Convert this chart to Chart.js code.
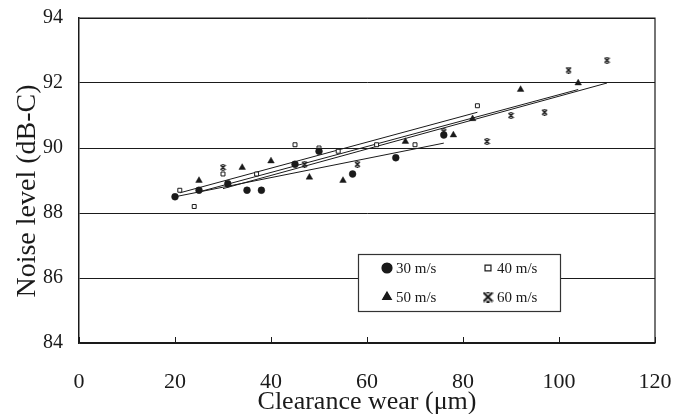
<!DOCTYPE html>
<html>
<head>
<meta charset="utf-8">
<script src="https://cdn.jsdelivr.net/npm/chart.js@4.4.1/dist/chart.umd.min.js"></script>
<style>
    body { margin: 0; background: #fff; }
</style>
</head>
<body>
<canvas id="cNoise" width="681" height="414"></canvas>
<script>
/* data */

const xTicks = [0, 20, 40, 60, 80, 100, 120];
const yTicks = [84, 86, 88, 90, 92, 94];

const wear30 = [20, 25, 31, 35, 38, 45, 50, 57, 66, 76];
const noise30 = [88.5, 88.7, 88.9, 88.7, 88.7, 89.5, 89.9, 89.2, 89.7, 90.4];

const wear40 = [21, 24, 30, 37, 45, 50, 54, 62, 70, 83];
const noise40 = [88.7, 88.2, 89.2, 89.2, 90.1, 90.0, 89.9, 90.1, 90.1, 91.3];

const wear50 = [25, 34, 40, 48, 55, 68, 78, 82, 92, 104];
const noise50 = [89.0, 89.4, 89.6, 89.1, 89.0, 90.2, 90.4, 90.9, 91.8, 92.0];

const wear60 = [30, 47, 58, 76, 85, 90, 97, 102, 110];
const noise60 = [89.4, 89.5, 89.5, 90.5, 90.2, 91.0, 91.1, 92.4, 92.7];

// trend lines, start / end
const trendWear = [[20, 76], [21, 83], [25, 104], [30, 110]];
const trendNoise = [[88.5, 90.15], [88.62, 91.1], [88.65, 91.8], [88.75, 92.0]];

const seriesNames = ["30 m/s", "40 m/s", "50 m/s", "60 m/s"];

/* helpers */

const INK = "#1a1a1a";
const SERIF = "'Liberation Serif', 'DejaVu Serif', serif";

const toPoints = (xs, ys) => xs.map((x, i) => ({ x, y: ys[i] }));

// star marker: bold X with short bars top and bottom
function makeStar(size, lw) {
    const c = document.createElement("canvas");
    c.width = size;
    c.height = size;
    const g = c.getContext("2d");
    g.strokeStyle = INK;
    g.lineWidth = lw;
    const a = 1, b = size - 1;
    g.beginPath();
    g.moveTo(a, a); g.lineTo(b, b);
    g.moveTo(b, a); g.lineTo(a, b);
    g.moveTo(size * 0.35, 0.6); g.lineTo(size * 0.65, 0.6);
    g.moveTo(size * 0.35, size - 0.6); g.lineTo(size * 0.65, size - 0.6);
    g.stroke();
    return c;
}

const star = makeStar(7, 1.5);
const starBig = makeStar(11, 2.2);

const markers = [
    { pointStyle: "circle", radius: 3.4, bg: INK, border: INK },
    { pointStyle: "rect", radius: 2.8, bg: "#fff", border: INK },
    { pointStyle: "triangle", radius: 3.8, bg: INK, border: INK },
    { pointStyle: star, radius: 3.5, bg: INK, border: INK }
];

/* plot frame + inward ticks + legend box */

const framePlugin = {
    id: "frame",
    afterDraw(chart) {
        const { ctx, chartArea: a, scales } = chart;
        ctx.save();
        ctx.strokeStyle = INK;
        ctx.lineWidth = 1.2;
        ctx.beginPath();
        ctx.moveTo(a.left, a.top);
        ctx.lineTo(a.right, a.top);
        ctx.lineTo(a.right, a.bottom);
        ctx.stroke();

        ctx.lineWidth = 1;
        ctx.beginPath();
        scales.x.ticks.forEach(t => {
            const px = Math.round(scales.x.getPixelForValue(t.value)) + 0.5;
            ctx.moveTo(px, a.bottom);
            ctx.lineTo(px, a.bottom - 6);
        });
        ctx.stroke();

        // legend
        const box = { x: 358, y: 254, w: 202, h: 57 };
        ctx.fillStyle = "#fff";
        ctx.fillRect(box.x, box.y, box.w, box.h);
        ctx.strokeStyle = "#333";
        ctx.lineWidth = 1.2;
        ctx.strokeRect(box.x + 0.5, box.y + 0.5, box.w, box.h);

        const spots = [[387, 268], [488, 268], [387, 297], [488, 297]];
        ctx.font = "15px " + SERIF;
        ctx.textBaseline = "middle";
        ctx.textAlign = "left";
        seriesNames.forEach((name, i) => {
            const [mx, my] = spots[i];
            const m = markers[i];
            ctx.fillStyle = m.bg;
            ctx.strokeStyle = m.border;
            ctx.lineWidth = 1.2;
            if (i === 3) {
                ctx.drawImage(starBig, mx - 5.5, my - 5.5);
            } else {
                Chart.helpers.drawPoint(ctx, {
                    pointStyle: m.pointStyle,
                    radius: i === 1 ? 4.2 : 5,
                    borderWidth: 1.2
                }, mx, my);
                if (i !== 1) ctx.fill();
            }
            ctx.fillStyle = INK;
            ctx.fillText(name, mx + 9, my + 1);
        });
        ctx.restore();
    }
};

/* chart */

const wears = [wear30, wear40, wear50, wear60];
const noises = [noise30, noise40, noise50, noise60];

const pointSets = seriesNames.map((name, i) => ({
    label: name,
    data: toPoints(wears[i], noises[i]),
    pointStyle: markers[i].pointStyle,
    pointRadius: markers[i].radius,
    pointBackgroundColor: markers[i].bg,
    pointBorderColor: markers[i].border,
    pointBorderWidth: i === 1 ? 1 : 0.5,
    showLine: false,
    order: 1
}));

const trendSets = trendWear.map((xs, i) => ({
    label: seriesNames[i] + " fit",
    data: toPoints(xs, trendNoise[i]),
    showLine: true,
    pointRadius: 0,
    borderColor: INK,
    borderWidth: 1,
    fill: false,
    order: 2
}));

new Chart(document.getElementById("cNoise"), {
    type: "scatter",
    data: {
        datasets: [...trendSets, ...pointSets]
    },
    options: {
        responsive: false,
        animation: false,
        layout: {
            padding: { left: 0, right: 26, top: 18, bottom: 0 }
        },
        plugins: {
            legend: { display: false },
            tooltip: { enabled: false }
        },
        scales: {
            x: {
                type: "linear",
                min: xTicks[0],
                max: xTicks[xTicks.length - 1],
                afterBuildTicks: s => { s.ticks = xTicks.map(v => ({ value: v })); },
                afterFit: s => {
                    s.height = 71;
                    s.paddingLeft = 0;
                    s.paddingRight = 0;
                },
                ticks: {
                    color: INK,
                    padding: 26,
                    font: { family: SERIF, size: 22 }
                },
                grid: { drawOnChartArea: false, drawTicks: false },
                border: { color: INK, width: 1.5 },
                title: {
                    display: true,
                    text: "Clearance wear (\u03bcm)",
                    color: INK,
                    padding: { top: 0, bottom: 0 },
                    font: { family: SERIF, size: 26, lineHeight: 0.9 }
                }
            },
            y: {
                min: yTicks[0],
                max: yTicks[yTicks.length - 1],
                afterBuildTicks: s => { s.ticks = yTicks.map(v => ({ value: v })); },
                afterFit: s => {
                    s.width = 79;
                    s.paddingTop = 0;
                    s.paddingBottom = 0;
                },
                ticks: {
                    color: INK,
                    padding: 16,
                    font: { family: SERIF, size: 20 }
                },
                grid: { color: INK, lineWidth: 1, drawTicks: false },
                border: { color: INK, width: 1.5 },
                title: {
                    display: true,
                    // trailing spaces nudge the title down a little, as in the original
                    text: "Noise level (dB-C)   ",
                    color: INK,
                    padding: { top: 11, bottom: 0 },
                    font: { family: SERIF, size: 28 }
                }
            }
        }
    },
    plugins: [framePlugin]
});
</script>
</body>
</html>
